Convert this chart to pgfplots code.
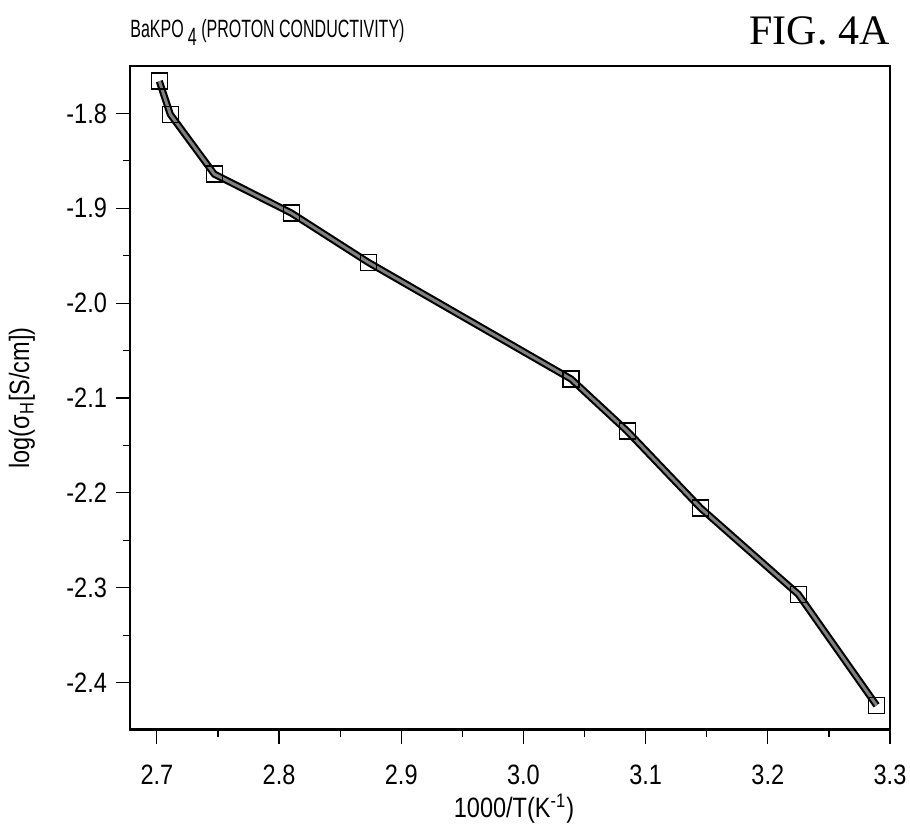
\documentclass[border=0pt]{standalone}
\usepackage{fontspec}
\setmainfont[FakeStretch=0.84]{Liberation Sans}
\newfontfamily\titlefont[FakeStretch=0.64]{Liberation Sans}
\newfontfamily\figfont{Liberation Serif}
\usepackage{pgfplots}
\usepackage{pgfplotstable}
\pgfplotsset{compat=1.18}

\pgfplotstableread{
x      y
2.702  -1.766
2.711  -1.801
2.747  -1.864
2.810  -1.905
2.873  -1.957
3.039  -2.080
3.085  -2.135
3.145  -2.216
3.225  -2.307
3.289  -2.424
}\bakpo

\begin{document}
\begin{tikzpicture}
\begin{axis}[
  name=ax,
  scale only axis,
  width=380pt, height=332pt,
  xmin=2.678, xmax=3.3,
  ymin=-2.45, ymax=-1.75,
  xtick={2.7,2.8,...,3.31},
  ytick={-2.4,-2.3,...,-1.79},
  minor tick num=1,
  xtick pos=bottom, ytick pos=left,
  tick align=outside,
  major tick length=7pt, minor tick length=3.5pt,
  tick style={black, line width=0.6pt},
  axis line style={line width=0.8pt},
  ticklabel style={font=\fontsize{14}{16}\selectfont},
  xticklabel style={yshift=-7pt},
  yticklabel style={xshift=-1pt},
  xlabel={1000/T(K\textsuperscript{-1})},
  xlabel style={font=\fontsize{14}{16}\selectfont, at={(rel axis cs:0.5,0)},
    anchor=base, inner sep=0pt, xshift=2pt, yshift=-44pt},
  /pgf/number format/.cd, fixed, fixed zerofill, precision=1, assume math mode=true,
]
\addplot[black, line width=3.6pt, no marks] table[x=x,y=y] {\bakpo};
\addplot[black!50, line width=1.5pt, no marks] table[x=x,y=y] {\bakpo};
\addplot[only marks, mark=square, mark size=4pt,
  mark options={black, line width=0.7pt, fill=none}] table[x=x,y=y] {\bakpo};
\draw[line width=1.5pt] (rel axis cs:0,0) -- (rel axis cs:1,0);
\end{axis}
\node[anchor=base west, font=\fontsize{12.5}{14}\titlefont, inner sep=0pt]
  at ([yshift=14pt]ax.north west) {BaKPO\,\raisebox{-0.6ex}{4} (PROTON CONDUCTIVITY)};
\node[anchor=base east, font=\fontsize{21}{24}\figfont, inner sep=0pt]
  at ([yshift=10.5pt]ax.north east) {FIG. 4A};
\node[rotate=90, font=\fontsize{14}{16}\selectfont, inner sep=0pt]
  at ([xshift=-54pt]ax.west) {log(σ\textsubscript{H}[S/cm])};
\pgfresetboundingbox
\path ([xshift=-65pt,yshift=-51pt]ax.south west) rectangle ([xshift=10pt,yshift=33pt]ax.north east);
\end{tikzpicture}
\end{document}
